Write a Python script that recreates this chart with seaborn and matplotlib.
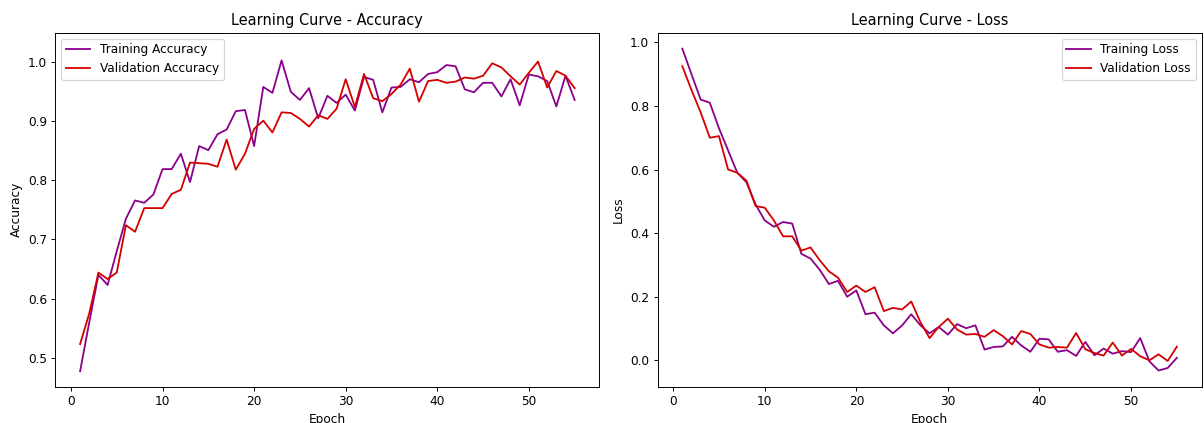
import numpy as np
import pandas as pd
import matplotlib
matplotlib.use("Agg")
import matplotlib.pyplot as plt
import seaborn as sns

# ---- data ----
epochs = list(range(1, 56))

train_acc = [0.477, 0.560, 0.640, 0.623, 0.680, 0.735, 0.766, 0.762, 0.776, 0.819,
             0.819, 0.845, 0.797, 0.858, 0.851, 0.878, 0.886, 0.917, 0.919, 0.858,
             0.958, 0.948, 1.003, 0.950, 0.936, 0.956, 0.905, 0.943, 0.931, 0.945,
             0.918, 0.975, 0.970, 0.915, 0.957, 0.958, 0.971, 0.966, 0.980, 0.983,
             0.995, 0.993, 0.954, 0.949, 0.965, 0.965, 0.942, 0.971, 0.927, 0.979,
             0.976, 0.968, 0.925, 0.977, 0.936]
val_acc = [0.523, 0.575, 0.644, 0.633, 0.644, 0.724, 0.713, 0.753, 0.753, 0.753,
           0.777, 0.784, 0.830, 0.829, 0.828, 0.823, 0.869, 0.818, 0.845, 0.887,
           0.901, 0.881, 0.915, 0.914, 0.904, 0.891, 0.910, 0.904, 0.921, 0.971,
           0.924, 0.980, 0.939, 0.934, 0.946, 0.962, 0.989, 0.933, 0.968, 0.970,
           0.965, 0.967, 0.974, 0.972, 0.977, 0.998, 0.991, 0.976, 0.962, 0.982,
           1.001, 0.957, 0.985, 0.977, 0.956]

train_loss = [0.980, 0.900, 0.820, 0.810, 0.730, 0.660, 0.590, 0.560, 0.490, 0.440,
              0.420, 0.435, 0.430, 0.335, 0.320, 0.285, 0.240, 0.250, 0.200, 0.220,
              0.145, 0.150, 0.110, 0.085, 0.110, 0.145, 0.110, 0.085, 0.105, 0.081,
              0.114, 0.101, 0.110, 0.034, 0.042, 0.044, 0.074, 0.047, 0.027, 0.068,
              0.066, 0.027, 0.032, 0.014, 0.058, 0.016, 0.037, 0.021, 0.029, 0.026,
              0.070, -0.003, -0.032, -0.024, 0.008]
val_loss = [0.925, 0.850, 0.780, 0.700, 0.705, 0.600, 0.590, 0.565, 0.485, 0.480,
            0.440, 0.390, 0.390, 0.345, 0.355, 0.315, 0.280, 0.260, 0.215, 0.235,
            0.215, 0.230, 0.155, 0.165, 0.160, 0.185, 0.120, 0.070, 0.105, 0.131,
            0.097, 0.081, 0.083, 0.074, 0.095, 0.076, 0.050, 0.092, 0.083, 0.050,
            0.040, 0.042, 0.040, 0.086, 0.035, 0.023, 0.015, 0.056, 0.015, 0.036,
            0.013, 0.000, 0.019, -0.002, 0.043]

TRAIN_COLOR = "#8b008b"
VAL_COLOR = "#d40000"

plt.rcParams["font.family"] = ["DejaVu Sans"]

DPI = 87
fig, (ax_acc, ax_loss) = plt.subplots(1, 2, figsize=(1204 / DPI, 423 / DPI), dpi=DPI)
fig.subplots_adjust(left=0.046, right=0.998, bottom=0.086, top=0.923, wspace=0.107)

# 左：准确率
acc_df = pd.DataFrame({"Epoch": epochs, "train": train_acc, "val": val_acc})
sns.lineplot(data=acc_df, x="Epoch", y="train", ax=ax_acc, color=TRAIN_COLOR,
             linewidth=1.5, label="Training Accuracy")
sns.lineplot(data=acc_df, x="Epoch", y="val", ax=ax_acc, color=VAL_COLOR,
             linewidth=1.5, label="Validation Accuracy")
ax_acc.set_title("Learning Curve - Accuracy", fontsize=12)
ax_acc.set_xlabel("Epoch")
ax_acc.set_ylabel("Accuracy")
ax_acc.set_ylim(0.451, 1.050)
ax_acc.legend(loc="upper left")

# 右：损失
loss_df = pd.DataFrame({"Epoch": epochs, "train": train_loss, "val": val_loss})
sns.lineplot(data=loss_df, x="Epoch", y="train", ax=ax_loss, color=TRAIN_COLOR,
             linewidth=1.5, label="Training Loss")
sns.lineplot(data=loss_df, x="Epoch", y="val", ax=ax_loss, color=VAL_COLOR,
             linewidth=1.5, label="Validation Loss")
ax_loss.set_title("Learning Curve - Loss", fontsize=12)
ax_loss.set_xlabel("Epoch")
ax_loss.set_ylabel("Loss")
ax_loss.legend(loc="upper right")

plt.savefig("out.png", dpi=DPI)
plt.close()
